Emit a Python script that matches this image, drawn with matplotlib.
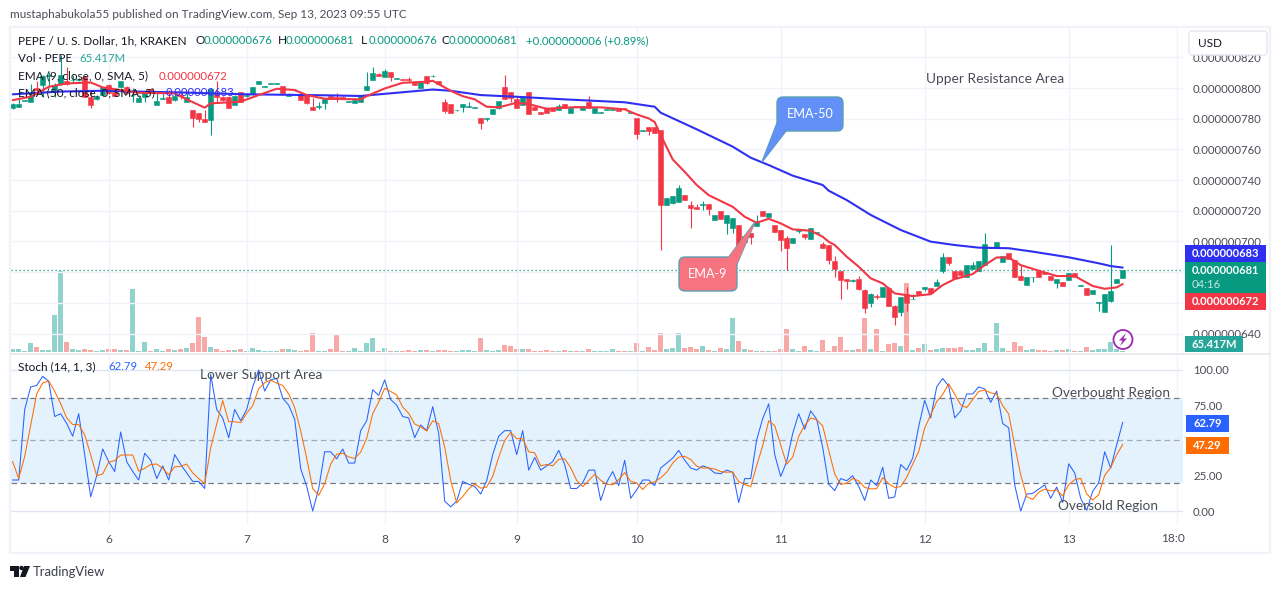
"""PEPE / USD 1h TradingView snapshot: candles, EMAs, volume, stochastic."""
import matplotlib
matplotlib.use("Agg")
import matplotlib.pyplot as plt
from matplotlib.patches import Circle, FancyBboxPatch, Polygon, Rectangle
from matplotlib.ticker import FuncFormatter

# prices are in units of 1e-9 USD
opens = [
    786.7,787.8,791.5,791.1,800.2,801.7,808.0,798.7,802.6,804.5,
    805.0,805.2,807.3,794.3,792.6,795.4,802.1,797.6,800.8,800.4,
    795.2,790.6,794.3,799.1,789.1,793.0,794.3,792.1,795.6,790.6,
    785.4,783.5,779.8,779.1,796.5,794.3,794.3,789.1,797.1,794.7,
    796.0,802.8,800.8,802.6,802.8,801.3,794.7,798.4,795.4,795.4,
    787.8,787.6,790.0,794.7,794.1,794.3,791.1,790.2,791.1,798.7,
    805.2,809.3,807.3,810.2,805.8,805.6,805.8,804.1,800.0,807.6,
    807.6,804.5,790.6,789.5,785.4,787.8,787.4,787.2,780.2,780.0,
    783.2,786.9,800.4,797.1,792.6,789.1,797.1,787.8,784.3,786.7,
    787.1,785.8,789.3,783.9,788.0,785.8,791.0,783.9,783.9,785.8,
    785.8,786.5,787.1,783.9,780.2,772.2,774.3,774.3,772.6,723.9,
    725.2,725.7,730.2,723.7,722.2,723.5,724.4,713.9,719.8,712.2,
    709.0,710.7,699.8,705.5,710.2,719.8,715.9,710.7,707.2,702.2,
    699.2,706.8,704.8,701.8,705.5,698.3,697.7,687.3,680.7,675.3,
    674.4,675.5,668.4,659.7,664.4,664.0,669.9,658.1,654.2,665.5,
    662.3,667.5,669.2,669.7,671.2,680.5,689.6,680.7,680.7,677.0,
    682.0,681.0,684.6,696.2,695.9,686.8,692.2,687.9,677.5,671.8,
    676.6,681.0,679.9,677.5,673.1,673.6,674.9,679.2,671.2,669.4,
    666.0,659.9,654.2,661.2,672.9,676.4,
]
closes = [
    789.3,789.5,792.1,794.7,798.7,807.8,808.6,802.1,808.4,802.8,
    805.4,805.6,794.3,788.9,794.7,800.4,796.5,795.0,804.3,796.5,
    795.6,793.2,797.1,798.2,791.5,793.2,790.4,795.0,795.0,793.9,
    780.2,779.8,778.0,799.1,794.3,792.1,787.1,795.0,791.1,795.2,
    800.4,804.5,801.3,803.0,803.2,796.5,795.4,798.9,792.1,790.0,
    785.6,788.0,793.0,792.8,793.7,792.8,791.5,792.1,794.7,801.3,
    809.5,807.8,811.3,806.9,806.3,805.2,805.4,801.9,804.1,803.0,
    808.0,802.6,785.2,783.9,785.8,789.3,788.2,787.6,777.4,780.4,
    786.1,791.3,792.8,793.2,787.1,793.9,783.2,785.8,783.2,783.9,
    785.2,788.2,786.9,787.1,787.6,788.0,787.1,787.1,784.3,786.3,
    786.3,785.2,786.7,784.3,770.2,772.6,772.2,770.6,723.9,728.3,
    729.6,734.8,727.0,722.0,721.3,724.2,721.1,717.2,714.6,717.2,
    715.0,697.0,703.5,703.1,713.3,716.8,718.5,706.3,700.9,695.7,
    702.2,707.2,703.1,708.7,705.9,695.7,687.9,682.0,674.9,674.2,
    674.9,668.8,656.8,665.5,663.8,670.1,658.1,651.0,663.6,660.1,
    662.7,665.5,670.1,666.2,673.8,689.6,686.2,676.4,678.1,684.6,
    684.6,687.0,698.3,695.7,699.4,690.5,688.8,677.0,674.9,676.6,
    677.0,677.0,678.8,675.1,675.3,671.0,679.2,677.0,671.6,665.1,
    668.4,660.3,665.5,667.7,675.3,681.2,
]
highs = [
    790.0,794.3,792.1,802.6,804.5,808.4,810.6,803.0,821.5,813.9,
    808.4,806.3,807.8,798.7,795.4,800.8,802.5,798.0,804.8,801.0,
    799.8,795.4,797.6,800.0,796.5,796.5,798.7,796.5,796.5,796.5,
    785.4,783.5,785.6,799.7,804.5,794.8,794.8,795.4,797.6,795.5,
    800.7,804.8,801.5,803.2,803.4,801.6,796.5,799.1,795.6,795.6,
    793.2,791.1,793.0,795.0,796.5,794.6,791.7,793.2,795.0,810.6,
    813.9,809.6,812.1,810.2,806.5,805.8,807.3,804.3,804.4,807.9,
    808.2,804.8,792.6,789.8,785.9,789.3,790.6,787.8,780.2,780.4,
    786.4,791.3,808.4,797.1,794.7,794.2,797.4,788.0,784.5,787.0,
    787.3,789.5,789.5,787.4,788.2,788.2,794.7,787.4,784.5,786.5,
    786.5,786.7,787.3,784.5,780.2,772.8,774.3,774.5,772.6,728.6,
    729.6,736.8,730.4,726.3,724.4,726.3,724.4,717.4,720.0,717.2,
    715.0,710.7,704.8,705.5,717.2,720.0,718.7,710.9,707.2,703.5,
    702.4,707.4,704.8,708.9,706.1,699.8,697.7,690.5,680.7,675.3,
    675.7,677.5,668.8,666.2,665.7,670.3,670.1,658.6,664.0,670.5,
    665.5,667.7,670.1,669.9,675.5,692.2,689.6,680.9,681.4,684.8,
    686.8,687.2,705.7,696.4,699.6,690.7,692.4,688.1,684.6,676.8,
    677.0,681.2,680.1,677.7,675.3,673.8,679.4,679.4,671.8,669.6,
    668.6,660.3,665.7,697.7,675.5,681.4,
]
lows = [
    786.1,787.8,791.5,791.1,795.4,794.3,800.4,794.3,801.9,801.9,
    803.0,804.5,793.9,786.7,792.1,795.0,796.0,794.5,800.3,796.0,
    791.1,790.6,791.1,797.0,789.1,792.8,790.4,791.7,793.0,790.6,
    774.8,777.8,778.0,769.6,791.1,791.7,786.8,788.8,790.8,794.4,
    795.7,802.6,800.6,802.4,802.6,796.3,794.7,798.2,791.9,789.8,
    785.6,786.1,786.5,792.6,791.1,792.6,790.9,790.2,790.9,798.7,
    805.2,807.6,806.9,804.5,805.6,805.0,804.1,801.7,799.8,802.8,
    807.4,802.4,783.9,783.7,785.2,784.5,787.4,787.0,773.2,778.7,
    783.0,786.3,792.8,791.0,787.1,788.9,783.0,785.6,783.0,783.7,
    785.0,785.8,786.7,783.7,787.4,785.6,787.1,783.7,783.7,785.6,
    785.6,785.0,786.5,783.7,766.7,772.0,769.3,770.4,694.4,723.7,
    724.4,725.7,726.8,709.0,721.3,720.5,717.2,713.7,714.4,705.0,
    705.7,693.7,699.8,698.3,710.2,716.6,715.7,706.1,694.0,681.4,
    699.0,705.7,701.6,701.6,705.3,695.7,685.3,677.0,662.5,668.8,
    673.6,668.4,653.6,657.5,662.3,663.8,657.9,645.5,651.6,654.9,
    662.3,665.3,667.9,666.0,671.0,679.6,684.6,676.2,676.4,676.8,
    682.0,680.8,684.6,695.5,695.7,686.6,688.6,676.8,674.9,671.6,
    673.8,676.8,678.6,674.9,669.9,670.8,674.7,676.8,671.0,664.9,
    665.8,654.9,654.0,660.8,672.7,676.2,
]
# volume in millions
volumes = [
    150,150,50,450,250,100,100,1850,4050,500,
    150,125,150,100,50,100,150,150,100,100,
    3150,50,500,50,150,50,150,100,150,200,
    450,1750,750,250,150,50,100,100,150,50,
    200,100,50,50,50,150,150,100,50,100,
    950,50,50,150,900,50,50,200,50,450,
    700,50,200,50,50,50,100,50,100,100,
    50,100,100,50,50,100,100,50,700,100,
    50,100,350,300,150,150,150,50,50,100,
    50,50,100,50,50,50,150,50,50,50,
    150,50,50,50,450,50,250,100,950,150,
    200,950,200,250,150,300,100,50,200,150,
    1700,550,150,100,50,50,50,50,150,1150,
    150,50,300,100,50,600,50,300,750,100,
    100,150,1700,150,1150,50,400,450,300,3450,
    100,200,400,100,150,200,200,200,250,100,
    100,200,450,50,1450,200,50,500,300,100,
    150,100,100,50,100,100,150,50,50,250,
    100,150,150,500,150,65.417,
]
ema50_bars = [0,8,15,28,39,53,58,70,73,78,84,92,102,107,108,114,120,123,126,130,
              135,136,139,143,148,153,157,161,166,170,176,181,183,185]
ema50_vals = [795.9,797.7,798.2,797.1,795.9,795.2,794.8,799.0,798.2,795.4,794.3,792.6,
              790.7,787.8,783.9,773.1,761.8,754.6,749.8,742.9,736.8,733.1,727.0,717.3,
              707.5,699.9,697.7,696.0,695.6,693.4,689.7,685.8,684.0,683.0]
ema9_bars = [0,3,6,9,13,15,21,27,29,32,33,38,41,44,47,49,52,58,59,62,65,69,70,73,75,77,
             79,81,84,86,89,93,98,102,104,106,107,108,110,112,114,116,120,122,124,126,
             128,130,133,135,136,137,139,141,143,145,147,150,153,155,157,160,162,164,
             166,168,171,174,177,180,182,184,185]
ema9_vals = [792.1,794.3,800.8,803.0,803.6,800.4,796.9,796.5,792.6,787.2,790.0,791.1,
             795.4,799.5,798.7,795.4,793.0,792.6,794.7,799.7,803.4,804.1,804.7,798.2,
             794.7,792.6,787.8,787.4,790.4,789.5,786.5,787.4,787.4,786.1,782.8,780.2,
             777.8,769.3,753.5,745.4,736.8,730.2,722.6,716.1,712.2,714.8,711.8,707.9,
             707.0,703.1,699.8,697.7,690.1,683.6,676.0,672.7,666.2,664.4,665.7,671.6,
             675.5,678.8,684.6,689.6,689.6,684.6,681.0,677.5,677.5,671.0,669.2,670.1,672.3]
stoch_k = [
    22,22,72,88,89,95.5,92,67,69,62,
    53,69,40,10,25,44,35,28,56,35,
    28,22,41,36,23,32,22,40,33,27,
    21,21,16,97,72,66,52,72,64,72,
    88,100,85,93,94,80,75,65,30,17.5,
    0,16,42,42,37,44,34,34,57,64,
    86,82,93,79,75,67,66,52,61,57,
    74,55,7,3,7,21,19,17.5,12,21.5,
    40,53,57,57,40,57,29,38,29,32,
    35,43,33,16,16,20,29,29,7.5,20.5,
    28,18,36,9,15,22,22,18,30.5,34,
    37.5,43,36,30.5,29,32,30.5,27,26.5,29,
    27.5,6,23,23,50.5,65.5,76,40,24.5,35,
    55,69,58,71,65,45,19,14.5,23,21.5,
    25,17.5,7.5,22,18,31,9,10,33,29,
    37.5,60,78.5,66,88,94,88.5,66,71,83,
    83,88,86.5,77,85,62,59,18.5,0,12,
    12.5,15.5,18.5,9,17,6,33.5,27,9,0.5,
    14,20,42,30.5,47,62.79,
]
stoch_d = [
    35,23,38.7,60.7,83,90.8,92.2,84.8,76,66,
    61.3,61.3,54,39.7,25,26.3,34.7,35.7,39.7,39.7,
    39.7,28.3,30.3,33,33.3,30.3,25.7,31.3,31.7,33.3,
    27,23,19.3,44.7,61.7,78.3,63.3,63.3,62.7,69.3,
    74.7,86.7,91,92.7,90.7,89,83,73.3,56.7,37.5,
    15.8,11.2,19.3,33.3,40.3,41,38.3,37.3,41.7,51.7,
    69,77.3,87,84.7,82.3,73.7,69.3,61.7,59.7,56.7,
    64,62,45.3,21.7,5.7,10.3,15.7,19.2,16.2,17,
    24.5,38.2,50,55.7,51.3,51.3,42,41.3,32,33,
    32,36.7,37,30.7,21.7,17.3,21.7,26,21.8,19,
    18.7,22.2,27.3,21,20,15.3,19.7,20.7,23.5,27.5,
    34,38.2,38.8,36.5,31.8,30.5,30.5,29.8,28,27.5,
    27.7,20.8,18.8,17.3,32.2,46.3,64,60.5,46.8,33.2,
    38.2,53,60.7,66,64.7,60.3,43,26.2,18.8,19.7,
    23.2,21.3,16.7,15.7,15.8,23.7,19.3,16.7,17.3,24,
    33.2,42.2,58.8,68.2,77.5,82.7,90.2,82.8,75.2,73.3,
    79,84.7,85.8,83.8,82.8,74.7,68.7,46.5,25.8,10.2,
    8.2,13.3,15.5,14.3,14.8,10.7,18.8,22.2,23.2,12.2,
    7.8,11.5,25.3,30.8,39.8,47.29,
]
price_ticks = [640,660,680,700,720,740,760,780,800,820]
stoch_ticks = [0,25,50,75,100]
time_ticks = [16,39,62,84,104,128,152,176,194]
time_labels = ["6","7","8","9","10","11","12","13",""]

W, H = 1281, 589
GREEN, RED = "#089981", "#f23645"
VOL_GREEN, VOL_RED = "#92d2cc", "#f7a9a7"
BLUE_LINE = "#2f2ff2"
GRID = "#f0f3fa"
TXT = "#4a4d57"
NUM = 8.2

plt.rcParams["font.family"] = ["Lato", "DejaVu Sans"]
plt.rcParams["font.size"] = 9


def pane(left, top, right, bottom):
    return [left / W, 1 - bottom / H, (right - left) / W, (bottom - top) / H]


fig = plt.figure(figsize=(W / 100, H / 100), dpi=100, facecolor="white")

# bar k sits at pixel 12.7 + 6k, so these limits line the panes up
xlim = ((11 - 12.7) / 6, (1183 - 12.7) / 6)

vax = fig.add_axes(pane(11, 28, 1183, 352), zorder=1)
ax = fig.add_axes(pane(11, 28, 1183, 352), zorder=2, sharex=vax)
sax = fig.add_axes(pane(11, 355, 1183, 525), zorder=2)
ax.patch.set_visible(False)

bars = range(len(opens))
candle_col = [GREEN if c >= o else RED for o, c in zip(opens, closes)]

vax.bar(bars, volumes, width=0.8, linewidth=0,
        color=[VOL_GREEN if c == GREEN else VOL_RED for c in candle_col])
vax.set_ylim(0, 16200)
vax.set_xlim(*xlim)
vax.set_yticks([])

ax.vlines(bars, lows, highs, colors=candle_col, linewidth=0.8, zorder=3)
ax.bar(bars, [abs(c - o) for o, c in zip(opens, closes)], bottom=[min(o, c) for o, c in zip(opens, closes)],
       width=0.76, color=candle_col, edgecolor=candle_col, linewidth=0.4, zorder=4)
ax.plot(ema50_bars, ema50_vals, color=BLUE_LINE, lw=1.5, zorder=5, solid_capstyle="round")
ax.plot(ema9_bars, ema9_vals, color=RED, lw=1.5, zorder=6, solid_capstyle="round")
ax.axhline(closes[-1], color=GREEN, lw=0.9, ls=(0, (1, 2.2)), zorder=5)
ax.set_xlim(*xlim)
ax.set_ylim(628, 839.1)
ax.set_yticks(price_ticks)
# 660 and 680 sit behind the price tags
ax.yaxis.set_major_formatter(FuncFormatter(lambda v, _: "" if v in (660, 680) else f"0.000000{v:.0f}"))

sax.axhspan(20, 80, color="#e3f2fd", lw=0, zorder=1)
sax.axhline(80, color="#787b86", lw=0.9, ls=(0, (4.5, 3)), zorder=2)
sax.axhline(50, color="#787b86", lw=0.9, alpha=0.6, ls=(0, (4.5, 3)), zorder=2)
sax.axhline(20, color="#787b86", lw=0.9, ls=(0, (4.5, 3)), zorder=2)
sax.plot(bars, stoch_k, color="#2962ff", lw=0.75, zorder=3)
sax.plot(bars, stoch_d, color="#ff6d00", lw=0.75, zorder=4)
sax.set_xlim(*xlim)
sax.set_ylim(-9.9, 110.6)
sax.set_yticks(stoch_ticks)
sax.yaxis.set_major_formatter(FuncFormatter(lambda v, _: "" if v == 50 else f"{v:.2f}"))

for a in (ax, vax, sax):
    a.grid(True, color=GRID, lw=1.0, zorder=0)
    a.set_axisbelow(True)
    for s in a.spines.values():
        s.set_visible(False)
    a.set_xticks(time_ticks)
vax.grid(False)
sax.grid(True, axis="y", color="#dfe6f2", lw=1.0)
for a in (ax, sax):
    a.yaxis.tick_right()
    a.tick_params(axis="y", length=0, pad=7.2, labelsize=NUM, labelcolor=TXT)
    a.tick_params(axis="x", length=0)
ax.tick_params(axis="x", labelbottom=False)
vax.tick_params(axis="both", length=0, labelbottom=False)
sax.set_xticklabels(time_labels, fontsize=8.6, color=TXT)
sax.tick_params(axis="x", pad=6.8)

# overlay in pixel coords for frame, price tags, legend and drawings
ov = fig.add_axes([0, 0, 1, 1], zorder=10)
ov.set_xlim(0, W)
ov.set_ylim(H, 0)
ov.axis("off")
ov.patch.set_visible(False)

ov.add_patch(Rectangle((10, 27), 1260, 526, fill=False, ec=GRID, lw=1.6))
ov.plot([11, 1270], [353.5, 353.5], color="#e4e7ee", lw=1.2)


def tag(x0, y0, x1, y1, color):
    ov.add_patch(Rectangle((x0, y0), x1 - x0, y1 - y0, fc=color, ec="none", zorder=3))


def label(x, y, s, color=TXT, size=8.6, **kw):
    kw.setdefault("va", "center")
    return ov.text(x, y, s, color=color, fontsize=size, zorder=5, **kw)


tag(1185, 245, 1266, 262, BLUE_LINE)
tag(1185, 262, 1266, 293, GREEN)
tag(1185, 293, 1266, 310, RED)
tag(1185, 336, 1243, 352, "#26a69a")
tag(1186, 415, 1229, 432, "#2962ff")
tag(1186, 437, 1229, 454, "#ff6d00")
label(1192, 253.5, "0.000000683", "white", size=8.0, weight="bold")
label(1192, 270.5, "0.000000681", "white", size=8.0, weight="bold")
label(1192, 284.5, "04:16", "#c3e6e0", size=NUM)
label(1192, 301.5, "0.000000672", "white", size=8.0, weight="bold")
label(1192, 344.5, "65.417M", "white", size=8.0, weight="bold")
label(1193, 423.5, "62.79", "white", size=8.0, weight="bold")
label(1193, 445.5, "47.29", "white", size=8.0, weight="bold")
label(1173, 538, "18:0", TXT, ha="center")

# top strip and legend
label(10, 15, "mustaphabukola55 published on TradingView.com, Sep 13, 2023 09:55 UTC", TXT, size=8.45)
label(18, 41, "PEPE / U. S. Dollar, 1h, KRAKEN", "#131722", size=8.5)
for x, head, val in [(196, "O", "0.000000676"), (278, "H", "0.000000681"),
                     (361, "L", "0.000000676"), (441, "C", "0.000000681")]:
    label(x, 41, head, "#131722", size=8.5)
    label(x + 8, 41, val, GREEN, size=NUM)
label(526, 41, "+0.000000006 (+0.89%)", GREEN, size=NUM)
label(18, 59, "Vol · PEPE", "#131722", size=8.5)
label(79, 59, "65.417M", "#26a69a", size=NUM)
label(18, 76, "EMA (9, close, 0, SMA, 5)", "#131722", size=8.5)
label(159, 76, "0.000000672", RED, size=NUM)
label(18, 93, "EMA (50, close, 0, SMA, 5)", "#131722", size=8.5)
label(166, 93, "0.000000683", BLUE_LINE, size=NUM)
label(18, 367, "Stoch (14, 1, 3)", "#131722", size=8.5)
label(108, 367, "62.79", "#2962ff", size=NUM)
label(145, 367, "47.29", "#ff6d00", size=NUM)

# drawings
label(926, 79, "Upper Resistance Area", TXT, size=9.9)
label(200, 375, "Lower Support Area", TXT, size=9.9)
label(1052, 393, "Overbought Region", TXT, size=9.8)
label(1058, 506, "Oversold Region", TXT, size=9.8)


def callout(x0, y0, x1, y1, tail, fc, text):
    box = FancyBboxPatch((x0 + 6, y0 + 6), x1 - x0 - 12, y1 - y0 - 12,
                         boxstyle="round,pad=6,rounding_size=6", fc=fc, ec="#5b9fb4", lw=1.0, zorder=3)
    ov.add_patch(box)
    ov.add_patch(Polygon(tail, closed=True, fc=fc, ec="#5b9fb4", lw=1.0, zorder=2))
    ov.add_patch(Polygon(tail, closed=True, fc=fc, ec="none", zorder=4))
    label((x0 + x1) / 2, (y0 + y1) / 2, text, "white", size=9.1, ha="center")


callout(777, 97, 843, 131, [(777, 123), (762, 162), (786, 131)], "#6390f7", "EMA-50")
callout(679, 257, 737, 291, [(728, 258), (755, 222), (737, 264)], "#f7737f", "EMA-9")

# lightning badge
ov.add_patch(Circle((1123, 339.5), 9.5, fc="white", ec="#9c27b0", lw=1.3, zorder=3))
ov.add_patch(Polygon([(1126, 333), (1119, 340.5), (1122.5, 340.5), (1120, 346), (1127, 338.5), (1123.5, 338.5)],
                     closed=True, fc="#9c27b0", ec="none", zorder=4))

# USD button covers the top tick label
ov.add_patch(FancyBboxPatch((1192, 34), 72, 18, boxstyle="round,pad=3,rounding_size=3", fc="white", ec="#e4e7ee", lw=1.0, zorder=3))
label(1198, 43.5, "USD", "#131722", size=8.5)

# TradingView mark and wordmark
ov.add_patch(Polygon([(10, 566), (19, 566), (19, 577), (14, 577), (14, 571), (10, 571)], closed=True, fc="#131722", ec="none"))
ov.add_patch(Circle((21.5, 568), 2.2, fc="#131722", ec="none"))
ov.add_patch(Polygon([(24, 566), (30, 566), (25.5, 577), (20, 577)], closed=True, fc="#131722", ec="none"))
label(33, 571.5, "TradingView", "#3c3f4a", size=9.4)

fig.savefig("out.png", dpi=100)
